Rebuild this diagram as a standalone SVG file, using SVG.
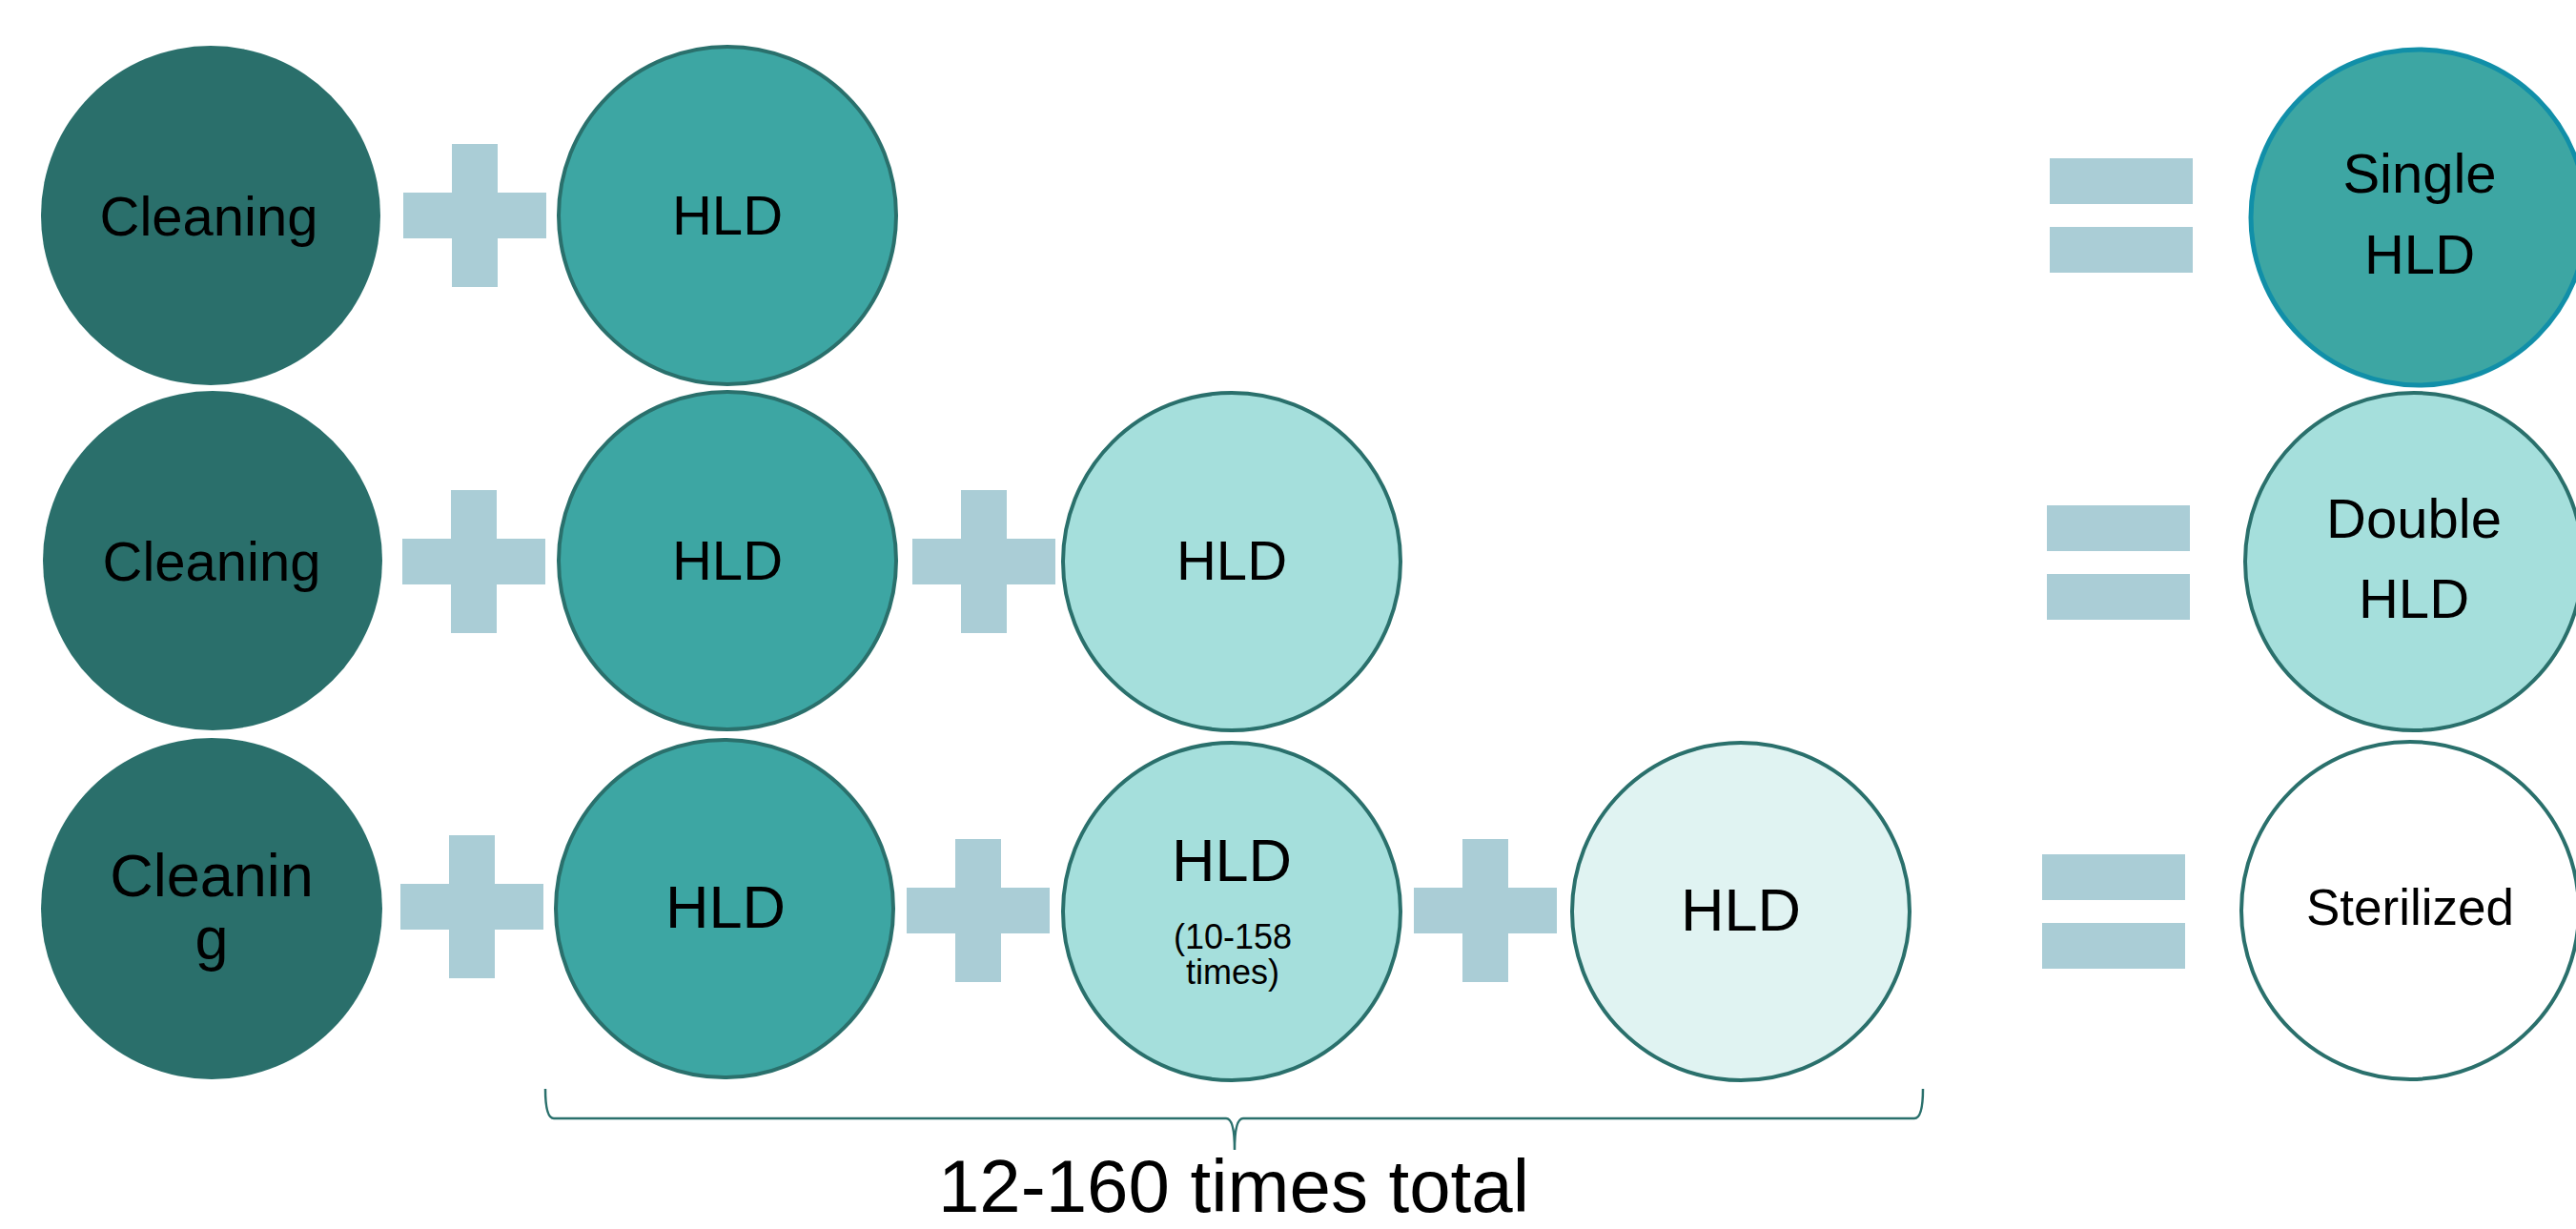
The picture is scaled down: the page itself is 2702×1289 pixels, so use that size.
<svg xmlns="http://www.w3.org/2000/svg" width="2702" height="1289" viewBox="0 0 2702 1289">
<style>
.t{font-family:"Liberation Sans",Arial,sans-serif;fill:#000;text-anchor:middle}
.l{font-size:58px}
.b{font-size:63px}
.s{font-size:36px}
.clean{fill:#2A6F6B}
.hld{fill:#3DA6A3;stroke:#2A706C;stroke-width:4}
.hld2{fill:#A5DFDC;stroke:#2A706C;stroke-width:4}
.hld3{fill:#E0F3F2;stroke:#2A706C;stroke-width:4}
.ster{fill:#FFFFFF;stroke:#2A706C;stroke-width:4}
.single{fill:#3DA6A3;stroke:#118FA8;stroke-width:5}
.op{fill:#AACDD6}
.br{fill:none;stroke:#2A706C;stroke-width:2.5}
</style>
<defs>
<g id="plus"><rect class="op" x="-24" y="-75" width="48" height="150"/><rect class="op" x="-75" y="-24" width="150" height="48"/></g>
<g id="eq"><rect class="op" x="0" y="-60" width="150" height="48"/><rect class="op" x="0" y="12" width="150" height="48"/></g>
</defs>
<g id="connectors">
<use href="#plus" x="498" y="226"/>
<use href="#plus" x="497" y="589"/>
<use href="#plus" x="1032" y="589"/>
<use href="#plus" x="495" y="951"/>
<use href="#plus" x="1026" y="955"/>
<use href="#plus" x="1558" y="955"/>
<use href="#eq" x="2150" y="226"/>
<use href="#eq" x="2147" y="590"/>
<use href="#eq" x="2142" y="956"/>
<path class="br" d="M572,1142 Q572,1173 581,1173 H1286 Q1295,1173 1295,1206 Q1295,1173 1304,1173 H2008 Q2017,1173 2017,1142"/>
</g>
<g id="r1-cleaning"><circle class="clean" cx="221" cy="226" r="178"/><text class="t l" x="219" y="247">Cleaning</text></g>
<g id="r1-hld"><circle class="hld" cx="763" cy="226" r="177"/><text class="t l" x="763" y="246">HLD</text></g>
<g id="r1-single"><circle class="single" cx="2537" cy="228" r="176"/><text class="t l" x="2538" y="202">Single</text><text class="t l" x="2538" y="287">HLD</text></g>
<g id="r2-cleaning"><circle class="clean" cx="223" cy="588" r="178"/><text class="t l" x="222" y="609">Cleaning</text></g>
<g id="r2-hld1"><circle class="hld" cx="763" cy="588" r="177"/><text class="t l" x="763" y="608">HLD</text></g>
<g id="r2-hld2"><circle class="hld2" cx="1292" cy="589" r="177"/><text class="t l" x="1292" y="608">HLD</text></g>
<g id="r2-double"><circle class="hld2" cx="2532" cy="589" r="177"/><text class="t l" x="2532" y="564">Double</text><text class="t l" x="2532" y="648">HLD</text></g>
<g id="r3-cleaning"><circle class="clean" cx="222" cy="953" r="179"/><text class="t b" x="222" y="940">Cleanin</text><text class="t b" x="222" y="1006">g</text></g>
<g id="r3-hld1"><circle class="hld" cx="760" cy="953" r="177"/><text class="t b" x="761" y="973">HLD</text></g>
<g id="r3-hld2"><circle class="hld2" cx="1292" cy="956" r="177"/><text class="t b" x="1292" y="924">HLD</text><text class="t s" x="1293" y="995">(10-158</text><text class="t s" x="1293" y="1032">times)</text></g>
<g id="r3-hld3"><circle class="hld3" cx="1826" cy="956" r="177"/><text class="t b" x="1826" y="976">HLD</text></g>
<g id="r3-sterilized"><circle class="ster" cx="2528" cy="955" r="177"/><text class="t" style="font-size:53px" x="2528" y="970">Sterilized</text></g>
<g id="total-label"><text class="t" style="font-size:78px" x="1294" y="1271">12-160 times total</text></g>
</svg>
